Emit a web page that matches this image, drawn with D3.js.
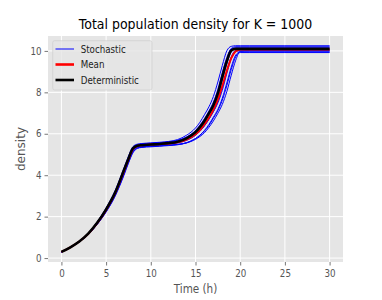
<!DOCTYPE html>
<html><head><meta charset="utf-8">
<script src="https://cdn.jsdelivr.net/npm/d3@7"></script>
<style>html,body{margin:0;padding:0;background:#fff;} svg{display:block;font-family:"DejaVu Sans",sans-serif;}</style>
</head><body><svg id="c" width="382" height="300"></svg>
<script>
const times = [0,1,2,3,4,5,6,7,7.5,8,8.5,9,10,11,12,13,14,15,15.5,16,16.5,17,17.5,18,18.5,19,19.5,20,21,25,30];
const deterministic = [0.30,0.52,0.80,1.18,1.70,2.35,3.15,4.25,4.80,5.30,5.42,5.45,5.48,5.51,5.55,5.62,5.78,6.08,6.32,6.62,6.98,7.38,7.95,8.75,9.50,10.02,10.10,10.10,10.10,10.10,10.10];
const meanDensity = [0.30,0.52,0.80,1.17,1.68,2.32,3.12,4.20,4.77,5.25,5.41,5.45,5.48,5.50,5.53,5.59,5.72,5.98,6.18,6.45,6.77,7.16,7.65,8.31,9.04,9.65,9.98,10.07,10.07,10.07,10.07];
const stochastic1 = [0.30,0.53,0.82,1.21,1.75,2.42,3.25,4.35,4.92,5.38,5.50,5.53,5.56,5.59,5.63,5.72,5.93,6.28,6.56,6.92,7.30,7.80,8.50,9.30,10.00,10.22,10.25,10.25,10.25,10.25,10.25];
const stochastic2 = [0.30,0.51,0.78,1.14,1.63,2.24,3.00,4.05,4.62,5.12,5.30,5.34,5.37,5.40,5.43,5.47,5.56,5.77,5.94,6.16,6.45,6.80,7.18,7.72,8.45,9.22,9.80,9.95,9.95,9.95,9.95];
const stochastic3 = [0.30,0.51,0.78,1.13,1.62,2.22,2.98,4.00,4.58,5.08,5.30,5.36,5.40,5.42,5.45,5.49,5.56,5.73,5.87,6.05,6.31,6.62,6.99,7.42,8.03,8.83,9.55,9.98,10.00,10.00,10.00];
const stochastic4 = [0.30,0.52,0.81,1.20,1.73,2.38,3.19,4.29,4.85,5.33,5.46,5.50,5.52,5.55,5.59,5.67,5.84,6.16,6.42,6.73,7.10,7.53,8.15,8.96,9.68,10.10,10.15,10.15,10.15,10.15,10.15];
const stochastic5 = [0.30,0.52,0.79,1.16,1.66,2.30,3.08,4.15,4.72,5.22,5.38,5.42,5.45,5.48,5.51,5.56,5.68,5.93,6.13,6.39,6.72,7.09,7.56,8.21,9.01,9.71,10.03,10.05,10.05,10.05,10.05];
const stochastic6 = [0.30,0.52,0.80,1.18,1.69,2.34,3.13,4.22,4.78,5.28,5.43,5.47,5.50,5.53,5.57,5.63,5.78,6.07,6.29,6.58,6.93,7.31,7.85,8.60,9.37,9.95,10.10,10.10,10.10,10.10,10.10];
const stochastic7 = [0.30,0.51,0.79,1.15,1.65,2.27,3.04,4.10,4.68,5.16,5.33,5.37,5.40,5.42,5.45,5.48,5.57,5.77,5.92,6.13,6.40,6.75,7.12,7.62,8.32,9.10,9.72,9.92,9.92,9.92,9.92];
const stochastic8 = [0.30,0.53,0.81,1.19,1.72,2.37,3.17,4.27,4.83,5.32,5.47,5.51,5.54,5.57,5.61,5.68,5.84,6.14,6.38,6.68,7.04,7.45,8.02,8.83,9.59,10.12,10.20,10.20,10.20,10.20,10.20];
const stochastic9 = [0.30,0.52,0.80,1.17,1.67,2.31,3.10,4.18,4.75,5.25,5.41,5.45,5.47,5.50,5.53,5.59,5.71,5.94,6.12,6.38,6.69,7.06,7.49,8.10,8.90,9.62,9.98,10.00,10.00,10.00,10.00];
const stochasticRuns = [stochastic1,stochastic2,stochastic3,stochastic4,stochastic5,stochastic6,stochastic7,stochastic8,stochastic9];
const xTicks = [0,5,10,15,20,25,30];
const yTicks = [0,2,4,6,8,10];
const legendLabels = ["Stochastic","Mean","Deterministic"];
const titleText = "Total population density for K = 1000";
const xLabel = "Time (h)";
const yLabel = "density";

const svg = d3.select("#c");
const L = 48, R = 343, T = 36, B = 262;
const SQ = 0.87;
const x = d3.scaleLinear().domain([-1.5, 31.5]).range([L, R]);
const y = d3.scaleLinear().domain([-0.19, 10.72]).range([B, T]);

function squeeze(sel){
  sel.each(function(){
    const len = this.getComputedTextLength();
    this.setAttribute("textLength", len*SQ);
    this.setAttribute("lengthAdjust","spacingAndGlyphs");
  });
}

svg.append("rect").attr("x",L).attr("y",T).attr("width",R-L).attr("height",B-T).attr("fill","#e5e5e5");
const grid = svg.append("g").attr("stroke","#ffffff").attr("stroke-width",1);
grid.selectAll(".gx").data(xTicks).join("line").attr("x1",d=>x(d)).attr("x2",d=>x(d)).attr("y1",T).attr("y2",B);
grid.selectAll(".gy").data(yTicks).join("line").attr("y1",d=>y(d)).attr("y2",d=>y(d)).attr("x1",L).attr("x2",R);

const xAxis = svg.append("g").attr("transform",`translate(0,${B})`)
  .call(d3.axisBottom(x).tickValues(xTicks).tickSize(3.5).tickPadding(4).tickFormat(d3.format("d")));
const yAxis = svg.append("g").attr("transform",`translate(${L},0)`)
  .call(d3.axisLeft(y).tickValues(yTicks).tickSize(3.5).tickPadding(3).tickFormat(d3.format("d")));
[xAxis,yAxis].forEach(a=>{
  a.select(".domain").remove();
  a.selectAll(".tick line").attr("stroke","#555555").attr("stroke-width",0.8);
  a.selectAll(".tick text").attr("fill","#555555").attr("font-size",10).attr("font-family","DejaVu Sans").call(squeeze);
});

const line = d3.line().x((d,i)=>x(times[i])).y(d=>y(d)).curve(d3.curveMonotoneX);
const plot = svg.append("g");
plot.selectAll(".s").data(stochasticRuns).join("path")
  .attr("d",line).attr("fill","none").attr("stroke","#0000ff").attr("stroke-width",1);
plot.append("path").attr("d",line(meanDensity)).attr("fill","none").attr("stroke","#ff0000").attr("stroke-width",2);
plot.append("path").attr("d",line(deterministic)).attr("fill","none").attr("stroke","#000000").attr("stroke-width",2.6);

svg.append("text").attr("x",(L+R)/2).attr("y",29).attr("text-anchor","middle")
  .attr("font-size",14.4).attr("fill","#000").text(titleText).call(squeeze);
svg.append("text").attr("x",(L+R)/2).attr("y",292.5).attr("text-anchor","middle")
  .attr("font-size",12).attr("fill","#555555").text(xLabel).call(squeeze);
svg.append("text").attr("transform",`translate(24.5,${(T+B)/2}) rotate(-90)`).attr("text-anchor","middle")
  .attr("font-size",12).attr("fill","#555555").text(yLabel);

const leg = svg.append("g");
leg.append("rect").attr("x",52.7).attr("y",40.7).attr("width",99.3).attr("height",49.3).attr("rx",2)
  .attr("fill","#e5e5e5").attr("fill-opacity",0.8).attr("stroke","#cccccc").attr("stroke-opacity",0.8).attr("stroke-width",0.8);
const legColors = ["#0000ff","#ff0000","#000000"];
const legWidths = [1,2.6,2.6];
const rowY = [49,64.5,80];
legendLabels.forEach((lab,i)=>{
  leg.append("line").attr("x1",55.5).attr("x2",74).attr("y1",rowY[i]).attr("y2",rowY[i])
    .attr("stroke",legColors[i]).attr("stroke-width",legWidths[i]);
  leg.append("text").attr("x",80.7).attr("y",rowY[i]+3.6).attr("font-size",10).attr("fill","#222")
    .text(lab).call(squeeze);
});
</script></body></html>
